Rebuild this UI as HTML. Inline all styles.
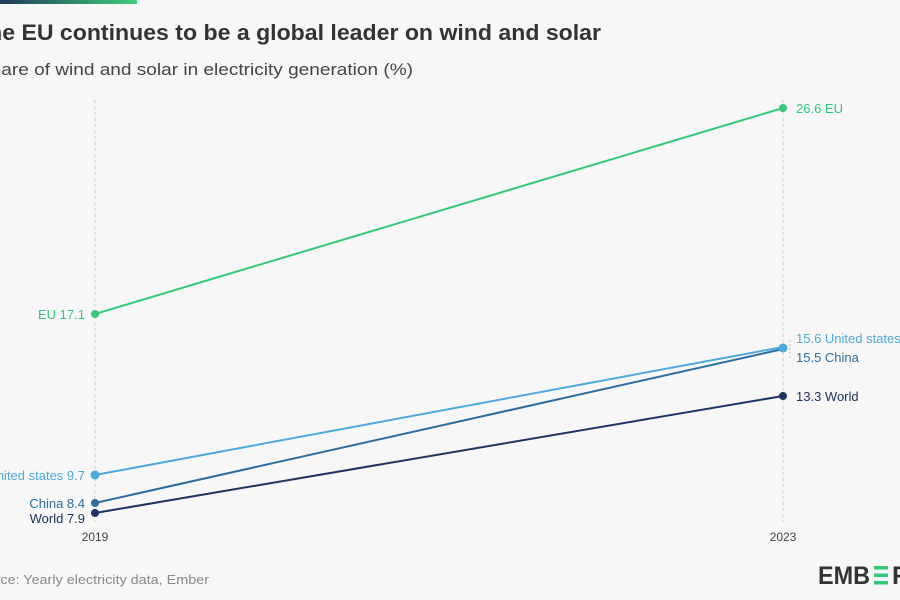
<!DOCTYPE html>
<html><head><meta charset="utf-8"><style>
body{margin:0;background:#f7f7f7;}
svg{display:block;font-family:"Liberation Sans",sans-serif;}
</style></head><body>
<svg width="900" height="600" viewBox="0 0 900 600">
<defs><linearGradient id="g" x1="0" x2="1"><stop offset="0" stop-color="#1f3a5a"/><stop offset="1" stop-color="#3ccf7a"/></linearGradient></defs>
<rect width="900" height="600" fill="#f7f7f7"/>
<rect x="0" y="0" width="137" height="4" fill="url(#g)"/>
<text x="-26" y="40" font-size="22" font-weight="bold" fill="#333" textLength="627" lengthAdjust="spacingAndGlyphs">The EU continues to be a global leader on wind and solar</text>
<text x="-22" y="75" font-size="17" fill="#444" textLength="435" lengthAdjust="spacingAndGlyphs">Share of wind and solar in electricity generation (%)</text>
<line x1="95" y1="100" x2="95" y2="522" stroke="#ccc" stroke-dasharray="3,3"/>
<line x1="783" y1="100" x2="783" y2="522" stroke="#ccc" stroke-dasharray="3,3"/>
<line x1="95" y1="314" x2="783" y2="108" stroke="#34c97a" stroke-width="2"/>
<line x1="95" y1="475" x2="783" y2="347" stroke="#4ea8dc" stroke-width="2"/>
<line x1="95" y1="503" x2="783" y2="349" stroke="#2e6d9e" stroke-width="2"/>
<line x1="95" y1="513" x2="783" y2="396" stroke="#1f3461" stroke-width="2"/>
<circle cx="95" cy="314" r="4" fill="#34c97a"/><circle cx="783" cy="108" r="4" fill="#34c97a"/>
<circle cx="95" cy="475" r="4.5" fill="#4ea8dc"/><circle cx="783" cy="348" r="4.5" fill="#4ea8dc"/>
<circle cx="95" cy="503" r="4" fill="#2e6d9e"/>
<circle cx="95" cy="513" r="4" fill="#1f3461"/><circle cx="783" cy="396" r="4" fill="#1f3461"/>
<g font-size="13">
<text x="85" y="319" text-anchor="end" fill="#34c97a">EU 17.1</text>
<text x="85" y="480" text-anchor="end" fill="#4ea8dc">United states 9.7</text>
<text x="85" y="508" text-anchor="end" fill="#2e6d9e">China 8.4</text>
<text x="85" y="523" text-anchor="end" fill="#1f3461">World 7.9</text>
<text x="796" y="113" fill="#34c97a">26.6 EU</text>
<text x="796" y="343" fill="#4ea8dc">15.6 United states</text>
<text x="796" y="362" fill="#2e6d9e">15.5 China</text>
<text x="796" y="401" fill="#1f3461">13.3 World</text>
</g>
<line x1="790" y1="340" x2="790" y2="360" stroke="#bbb" stroke-dasharray="2,2"/>
<text x="95" y="541" text-anchor="middle" font-size="12" fill="#444">2019</text>
<text x="783" y="541" text-anchor="middle" font-size="12" fill="#444">2023</text>
<text x="-30" y="584" font-size="13" fill="#888" textLength="239" lengthAdjust="spacingAndGlyphs">Source: Yearly electricity data, Ember</text>
<text x="818" y="584" font-size="25" font-weight="bold" fill="#333" textLength="52" lengthAdjust="spacingAndGlyphs">EMB</text>
<g fill="#34c97a"><rect x="874" y="566" width="14" height="3.5"/><rect x="874" y="573.5" width="14" height="3.5"/><rect x="874" y="581" width="14" height="3.5"/></g>
<text x="892" y="584" font-size="25" font-weight="bold" fill="#333">R</text>
</svg>
</body></html>
